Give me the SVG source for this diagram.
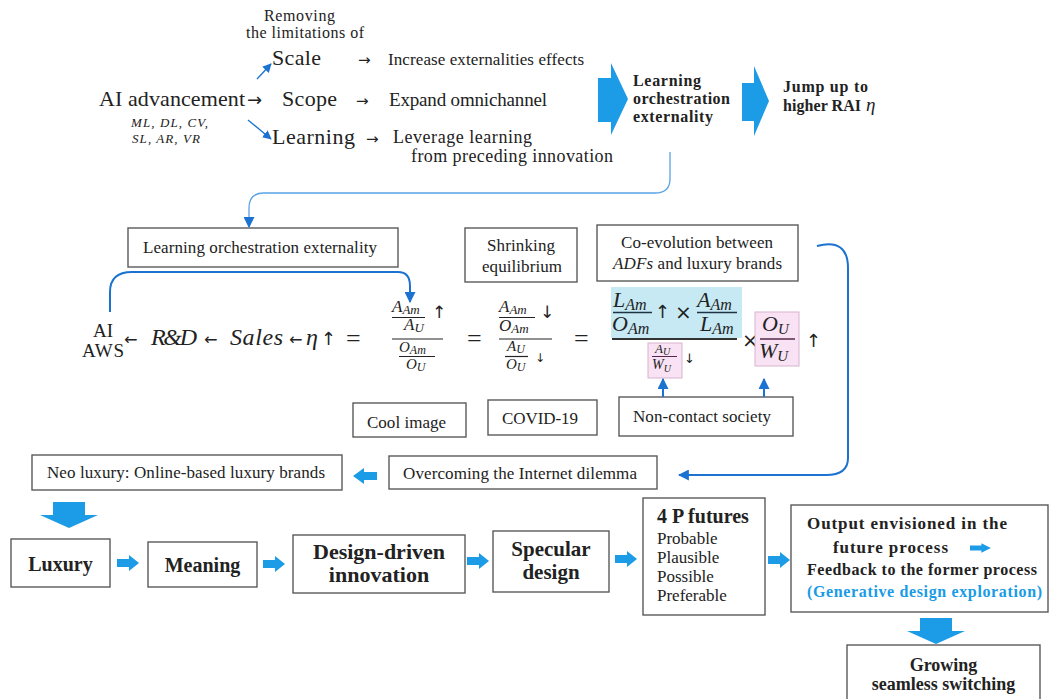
<svg xmlns="http://www.w3.org/2000/svg" width="1049" height="699" viewBox="0 0 1049 699">
<style>
.t{font-family:"Liberation Serif",Tinos,"Times New Roman","DejaVu Serif",serif;fill:#222}
.b{font-weight:bold}
.i{font-style:italic}
.box{fill:#fff;stroke:#5a5a5a;stroke-width:1.4}
.blk{fill:#1c9be6}
.con{fill:none;stroke:#1b72d0;stroke-width:2}
.thin{fill:none;stroke:#5aa2e6;stroke-width:1.3}
.bar{stroke:#222;stroke-width:1.2}
.m{font-family:"Liberation Serif",Tinos,"Times New Roman","DejaVu Serif",serif;font-style:italic;fill:#222}
.ar{font-family:"DejaVu Sans",sans-serif;fill:#222}
</style>
<defs>
<marker id="ah" viewBox="0 0 10 10" refX="9" refY="5" markerUnits="userSpaceOnUse" markerWidth="11" markerHeight="11" orient="auto"><path d="M0,0 L10,5 L0,10 z" fill="#1b72d0"/></marker>
<marker id="ahs" viewBox="0 0 10 10" refX="9" refY="5" markerUnits="userSpaceOnUse" markerWidth="9" markerHeight="9" orient="auto"><path d="M0,0 L10,5 L0,10 z" fill="#1b72d0"/></marker>
<path id="ra" d="M0,-4 H12 V-8 L22,0 L12,8 V4 H0 Z" class="blk"/>
<path id="la" d="M24,-4 H11 V-8 L0,0 L11,8 V4 H24 Z" class="blk"/>
<path id="da" d="M-16,0 H16 V13 H29 L0,26 L-29,13 H-16 Z" class="blk"/>
</defs>

<g id="top-ai">
<text class="t" x="264" y="21" font-size="16" textLength="71">Removing</text>
<text class="t" x="246" y="38" font-size="16" textLength="118">the limitations of</text>
<text class="t" x="272" y="65" font-size="22" textLength="49">Scale</text>
<text class="ar" x="358" y="65" font-size="15">→</text>
<text class="t" x="388" y="65" font-size="17" textLength="196">Increase externalities effects</text>
<text class="t" x="99" y="106" font-size="22" textLength="146">AI advancement</text>
<text class="ar" x="247" y="106" font-size="18">→</text>
<text class="t" x="282" y="106" font-size="22" textLength="55">Scope</text>
<text class="ar" x="356" y="106" font-size="15">→</text>
<text class="t" x="389" y="106" font-size="19" textLength="158">Expand omnichannel</text>
<text class="t i" x="131" y="127" font-size="13" textLength="77">ML, DL, CV,</text>
<text class="t i" x="132" y="143" font-size="13" textLength="68">SL, AR, VR</text>
<text class="t" x="272" y="144" font-size="22" textLength="83">Learning</text>
<text class="ar" x="366" y="144" font-size="15">→</text>
<text class="t" x="393" y="143" font-size="18" textLength="139">Leverage learning</text>
<text class="t" x="411" y="162" font-size="18" textLength="202">from preceding innovation</text>
</g>

<g id="top-arrows">
<path class="blk" d="M598,78 H611 V63 L628,99 L611,135 V122 H598 Z"/>
<path class="blk" d="M742,83 H754 V66 L769,101 L754,136 V121 H742 Z"/>
</g>
<g id="learning-orch">
<text class="t b" x="633" y="86" font-size="16" textLength="68">Learning</text>
<text class="t b" x="633" y="104" font-size="16" textLength="97">orchestration</text>
<text class="t b" x="633" y="122" font-size="16" textLength="80">externality</text>
</g>
<g id="jump">
<text class="t b" x="783" y="92" font-size="16" textLength="85">Jump up to</text>
<text class="t b" x="783" y="111" font-size="16" textLength="78">higher RAI</text>
<text class="m" x="866" y="111" font-size="19">η</text>
</g>

<g id="box-loe">
<rect class="box" x="128" y="228" width="270" height="39"/>
<text class="t" x="143" y="253" font-size="17" textLength="234">Learning orchestration externality</text>
</g>
<g id="box-shrink">
<rect class="box" x="465" y="228" width="112" height="54"/>
<text class="t" x="487" y="251" font-size="17" textLength="68">Shrinking</text>
<text class="t" x="482" y="272" font-size="17" textLength="80">equilibrium</text>
</g>
<g id="box-coevo">
<rect class="box" x="597" y="225" width="201" height="56"/>
<text class="t" x="621" y="248" font-size="17" textLength="152">Co-evolution between</text>
<text class="t" x="613" y="269" font-size="17" textLength="169"><tspan class="i">ADFs</tspan> and luxury brands</text>
</g>

<g id="equation">
<text class="t" x="103" y="337" font-size="19" text-anchor="middle">AI</text>
<text class="t" x="82" y="357" font-size="19" textLength="42">AWS</text>
<text class="ar" x="124" y="345" font-size="16" textLength="12">←</text>
<text class="m" x="151" y="345" font-size="24" textLength="46">R&amp;D</text>
<text class="ar" x="204" y="345" font-size="16" textLength="13">←</text>
<text class="m" x="230" y="345" font-size="24" textLength="53">Sales</text>
<text class="ar" x="289" y="345" font-size="16" textLength="12">←</text>
<text class="m" x="306" y="345" font-size="24">η</text>
<text class="ar" x="321" y="345" font-size="18" textLength="10">↑</text>
<text class="t" x="346" y="347" font-size="26" textLength="21">=</text>

<text class="m" x="392" y="312" font-size="17">A<tspan font-size="13" dy="2">Am</tspan></text>
<text class="ar" x="432" y="318" font-size="17">↑</text>
<line class="bar" x1="392" y1="317.5" x2="425" y2="317.5" stroke-width="1.1"/>
<text class="m" x="404" y="330" font-size="17">A<tspan font-size="13" dy="2">U</tspan></text>
<line class="bar" x1="392" y1="339" x2="443" y2="339" stroke-width="1.6"/>
<text class="m" x="399" y="352" font-size="15">O<tspan font-size="12" dy="2">Am</tspan></text>
<line class="bar" x1="399" y1="356.5" x2="435" y2="356.5" stroke-width="1.1"/>
<text class="m" x="406" y="369" font-size="15">O<tspan font-size="12" dy="2">U</tspan></text>

<text class="t" x="467" y="347" font-size="26" textLength="15">=</text>

<text class="m" x="499" y="312" font-size="17">A<tspan font-size="13" dy="2">Am</tspan></text>
<line class="bar" x1="499" y1="317.5" x2="535" y2="317.5" stroke-width="1.1"/>
<text class="m" x="499" y="331" font-size="17">O<tspan font-size="13" dy="2">Am</tspan></text>
<text class="ar" x="540" y="318" font-size="17">↓</text>
<line class="bar" x1="499" y1="339" x2="552" y2="339" stroke-width="1.6"/>
<text class="m" x="507" y="351" font-size="15">A<tspan font-size="12" dy="2">U</tspan></text>
<line class="bar" x1="505" y1="356.5" x2="528" y2="356.5" stroke-width="1.1"/>
<text class="m" x="506" y="369" font-size="15">O<tspan font-size="12" dy="2">U</tspan></text>
<text class="ar" x="535" y="362" font-size="12">↓</text>

<text class="t" x="574" y="347" font-size="26" textLength="15">=</text>

<rect x="611" y="287" width="131" height="51" fill="#c6e9f4"/>
<text class="m" x="613" y="307" font-size="22" fill="#1e3444">L<tspan font-size="16" dy="3">Am</tspan></text>
<line x1="613" y1="312.5" x2="652" y2="312.5" stroke="#1e3444" stroke-width="1.3"/>
<text class="m" x="612" y="331" font-size="22" fill="#1e3444">O<tspan font-size="16" dy="3">Am</tspan></text>
<text class="ar" x="655" y="318" font-size="18" fill="#1e3444">↑</text>
<text class="ar" x="675" y="319" font-size="20" fill="#1e3444">×</text>
<text class="m" x="697" y="307" font-size="22" fill="#1e3444">A<tspan font-size="16" dy="3">Am</tspan></text>
<line x1="697" y1="312.5" x2="737" y2="312.5" stroke="#1e3444" stroke-width="1.3"/>
<text class="m" x="700" y="331" font-size="22" fill="#1e3444">L<tspan font-size="16" dy="3">Am</tspan></text>
<line x1="612" y1="339" x2="737" y2="339" stroke="#333" stroke-width="2"/>

<rect x="648" y="343" width="34" height="35" fill="#f8e2f3" stroke="#d7b4cf" stroke-width="1"/>
<text class="m" x="655" y="353" font-size="13" fill="#55284a">A<tspan font-size="10" dy="2">U</tspan></text>
<line x1="652" y1="356.5" x2="677" y2="356.5" stroke="#55284a" stroke-width="1"/>
<text class="m" x="652" y="369" font-size="14" fill="#55284a">W<tspan font-size="10" dy="3">U</tspan></text>
<text class="ar" x="684" y="363" font-size="13">↓</text>

<text class="ar" x="742" y="347" font-size="20">×</text>
<rect x="755" y="312" width="44" height="54" fill="#f8e2f3" stroke="#d7b4cf" stroke-width="1"/>
<text class="m" x="762" y="331" font-size="22" fill="#55284a">O<tspan font-size="15" dy="3">U</tspan></text>
<line x1="760" y1="339" x2="795" y2="339" stroke="#55284a" stroke-width="1.3"/>
<text class="m" x="759" y="358" font-size="22" fill="#55284a">W<tspan font-size="15" dy="3">U</tspan></text>
<text class="ar" x="806" y="347" font-size="18">↑</text>
</g>

<g id="box-cool">
<rect class="box" x="353" y="403" width="113" height="34"/>
<text class="t" x="367" y="428" font-size="17" textLength="79">Cool image</text>
</g>
<g id="box-covid">
<rect class="box" x="488" y="400" width="109" height="35"/>
<text class="t" x="502" y="424" font-size="17" textLength="76">COVID-19</text>
</g>
<g id="box-noncontact">
<rect class="box" x="619" y="397" width="174" height="39"/>
<text class="t" x="633" y="422" font-size="17" textLength="138">Non-contact society</text>
</g>
<g id="box-overcoming">
<rect class="box" x="389" y="456" width="268" height="33"/>
<text class="t" x="403" y="479" font-size="17" textLength="234">Overcoming the Internet dilemma</text>
</g>
<g id="box-neo">
<rect class="box" x="32" y="455" width="310" height="35"/>
<text class="t" x="47" y="478" font-size="17" textLength="278">Neo luxury: Online-based luxury brands</text>
</g>

<g id="box-luxury">
<rect class="box" x="11" y="539" width="99" height="48"/>
<text class="t b" x="60.5" y="571" font-size="20" text-anchor="middle">Luxury</text>
</g>
<g id="box-meaning">
<rect class="box" x="148" y="542" width="109" height="45"/>
<text class="t b" x="202.5" y="572" font-size="20" text-anchor="middle">Meaning</text>
</g>
<g id="box-ddi">
<rect class="box" x="293" y="535" width="172" height="58"/>
<text class="t b" x="379" y="559" font-size="22" text-anchor="middle">Design-driven</text>
<text class="t b" x="379" y="582" font-size="22" text-anchor="middle">innovation</text>
</g>
<g id="box-specular">
<rect class="box" x="493" y="531" width="116" height="61"/>
<text class="t b" x="551" y="556" font-size="21" text-anchor="middle">Specular</text>
<text class="t b" x="551" y="579" font-size="21" text-anchor="middle">design</text>
</g>
<g id="box-4p">
<rect class="box" x="643" y="498" width="122" height="117"/>
<text class="t b" x="657" y="523" font-size="20">4 P futures</text>
<text class="t" x="657" y="544" font-size="17">Probable</text>
<text class="t" x="657" y="563" font-size="17">Plausible</text>
<text class="t" x="657" y="582" font-size="17">Possible</text>
<text class="t" x="657" y="601" font-size="17">Preferable</text>
</g>
<g id="box-output">
<rect class="box" x="791" y="505" width="257" height="107"/>
<text class="t b" x="807" y="529" font-size="17" textLength="200">Output envisioned in the</text>
<text class="t b" x="833" y="553" font-size="17" textLength="115">future process</text>
<use href="#ra" x="970" y="548" transform="translate(970,548) scale(0.95,0.6) translate(-970,-548)"/>
<text class="t b" x="807" y="575" font-size="16" textLength="230">Feedback to the former process</text>
<text class="t b" x="807" y="597" font-size="16" textLength="235" style="fill:#1a9be6">(Generative design exploration)</text>
</g>
<g id="box-growing">
<rect class="box" x="847" y="645" width="193" height="60"/>
<text class="t b" x="943.5" y="671" font-size="18" text-anchor="middle">Growing</text>
<text class="t b" x="943.5" y="690" font-size="18" text-anchor="middle">seamless switching</text>
</g>

<g id="connectors">
<line x1="257" y1="79" x2="271" y2="64" stroke="#1b72d0" stroke-width="1.3" marker-end="url(#ahs)"/>
<line x1="248" y1="120" x2="271" y2="139" stroke="#1b72d0" stroke-width="1.3" marker-end="url(#ahs)"/>
<path class="thin" d="M670,152 V179 Q670,193 655,193 H264 Q249,193 249,208 V227" marker-end="url(#ah)"/>
<path class="con" d="M110,312 V292 Q110,272 132,272 H398 Q410,272 410,286 V302" marker-end="url(#ah)"/>
<path class="con" d="M817,246 Q848,238 848,268 V458 Q848,475 826,475 H679" marker-end="url(#ah)"/>
<path class="con" d="M663,397 V379" stroke-width="1.3" marker-end="url(#ah)"/>
<path class="con" d="M764,397 V379" stroke-width="1.3" marker-end="url(#ah)"/>
<use href="#la" x="353" y="476"/>
<use href="#da" x="69" y="502"/>
<use href="#ra" x="117" y="563"/>
<use href="#ra" x="263" y="564"/>
<use href="#ra" x="467" y="561"/>
<use href="#ra" x="615" y="559"/>
<use href="#ra" x="768" y="560"/>
<use href="#da" x="936" y="618"/>
</g>
</svg>
